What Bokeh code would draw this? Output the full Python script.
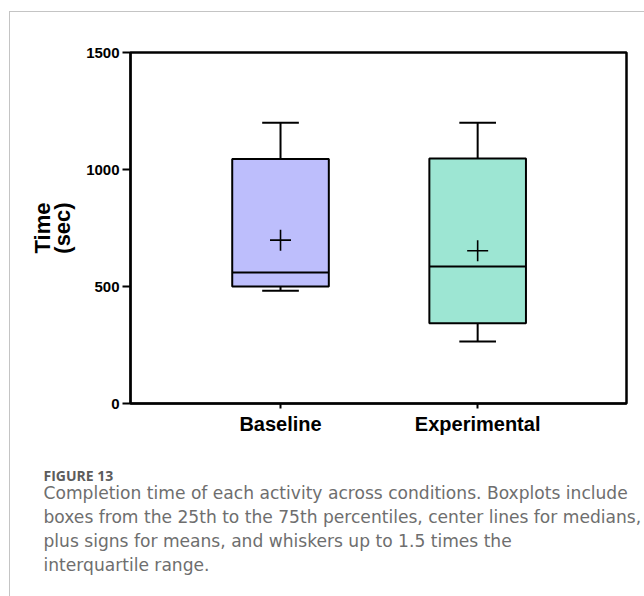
from bokeh.plotting import figure
from bokeh.models import Range1d, FixedTicker, ColumnDataSource
from bokeh.layouts import column
from bokeh.core.properties import value
from bokeh.embed import file_html
from bokeh.resources import INLINE

# ---- data ----
categories = ["Baseline", "Experimental"]
positions = [1, 2]
q1 = [500, 343]
median = [560, 585]
q3 = [1045, 1047]
whisker_low = [482, 265]
whisker_high = [1200, 1200]
means = [698, 653]
box_colors = ["#BDBEFC", "#9DE6D3"]
y_ticks = [0, 500, 1000, 1500]

caption_head = "FIGURE 13"
caption_lines = [
    "Completion time of each activity across conditions. Boxplots include",
    "boxes from the 25th to the 75th percentiles, center lines for medians,",
    "plus signs for means, and whiskers up to 1.5 times the",
    "interquartile range.",
]

BOX_W = 0.49
CAP_W = 0.186

W, H = 634, 440
FL, FR, FT, FB = 120, 616, 40, 391  # frame edges in canvas px

p = figure(width=W, height=H, output_backend="svg", toolbar_location=None,
           x_range=Range1d(0.239, 2.755), y_range=Range1d(0, 1500),
           min_border_left=FL, min_border_right=W - FR,
           min_border_top=FT, min_border_bottom=H - FB)
p.frame_align = False
p.grid.visible = False
p.outline_line_color = "black"
p.outline_line_width = 2.5
p.background_fill_color = "white"
p.border_fill_color = "white"

src = ColumnDataSource(dict(
    x=positions, q1=q1, med=median, q3=q3, lo=whisker_low, hi=whisker_high,
    mean=means, color=box_colors,
    bx0=[x - BOX_W / 2 for x in positions], bx1=[x + BOX_W / 2 for x in positions],
    cx0=[x - CAP_W / 2 for x in positions], cx1=[x + CAP_W / 2 for x in positions],
))

# whiskers
p.segment(x0="x", x1="x", y0="q3", y1="hi", source=src, line_color="black", line_width=2)
p.segment(x0="x", x1="x", y0="lo", y1="q1", source=src, line_color="black", line_width=2)
# caps
p.segment(x0="cx0", x1="cx1", y0="hi", y1="hi", source=src, line_color="black", line_width=2)
p.segment(x0="cx0", x1="cx1", y0="lo", y1="lo", source=src, line_color="black", line_width=2)
# boxes
p.vbar(x="x", width=BOX_W, bottom="q1", top="q3", source=src,
       fill_color="color", line_color="black", line_width=2)
# medians
p.segment(x0="bx0", x1="bx1", y0="med", y1="med", source=src, line_color="black", line_width=2)
# means
p.scatter(x="x", y="mean", source=src, marker="cross", size=21,
          line_color="black", line_width=1.6)

# axes
ya = p.yaxis[0]
ya.ticker = FixedTicker(ticks=y_ticks)
ya.minor_tick_line_color = None
ya.major_tick_out = 8
ya.major_tick_in = 0
ya.axis_line_width = 2
ya.major_tick_line_width = 2
ya.major_label_text_font = "Liberation Sans"
ya.major_label_text_font_style = "bold"
ya.major_label_text_font_size = "15px"
ya.major_label_text_color = "black"
ya.major_label_standoff = 3
ya.axis_label = "Time\n(sec)"
ya.axis_label_text_font = "Liberation Sans"
ya.axis_label_text_font_style = "bold"
ya.axis_label_text_font_size = "22px"
ya.axis_label_text_color = "black"
ya.axis_label_text_line_height = 0.8
ya.axis_label_standoff = 8

xa = p.xaxis[0]
xa.ticker = FixedTicker(ticks=positions)
xa.major_label_overrides = {pos: cat for pos, cat in zip(positions, categories)}
xa.minor_tick_line_color = None
xa.major_tick_out = 5
xa.major_tick_in = 0
xa.axis_line_width = 2
xa.major_tick_line_width = 2
xa.major_label_text_font = "Liberation Sans"
xa.major_label_text_font_style = "bold"
xa.major_label_text_font_size = "20px"
xa.major_label_text_color = "black"
xa.major_label_standoff = 4

# ---- caption panel ----
CW, CH = 634, 144
cap = figure(width=CW, height=CH, output_backend="svg", toolbar_location=None,
             x_range=Range1d(0, CW), y_range=Range1d(CH, 0),
             min_border=0, x_axis_type=None, y_axis_type=None)
cap.frame_align = False
cap.grid.visible = False
cap.outline_line_color = None
cap.background_fill_color = "white"
cap.border_fill_color = "white"

head_src = ColumnDataSource(dict(x=[33], y=[23], t=[caption_head]))
cap.text(x="x", y="y", text="t", source=head_src, text_font=value("Open Sans"),
         text_font_style="bold", text_font_size="14px", text_color="#5c5c5c",
         text_baseline="alphabetic")
line_src = ColumnDataSource(dict(x=[33] * len(caption_lines),
                                 y=[40 + 24 * i for i in range(len(caption_lines))],
                                 t=caption_lines))
cap.text(x="x", y="y", text="t", source=line_src, text_font=value("DejaVu Sans"),
         text_font_size="17.1px", text_color="#6e6e6e", text_baseline="alphabetic")

layout = column(p, cap, margin=(11, 0, 0, 9),
                styles={"border-top": "1px solid #c4c4c4",
                        "border-left": "1px solid #c4c4c4"})

open("out.html", "w").write(file_html(layout, INLINE))
